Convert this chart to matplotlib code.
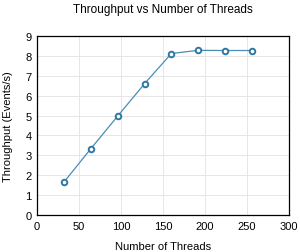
import matplotlib
matplotlib.use('Agg')
import matplotlib.pyplot as plt

plt.rcParams['font.family'] = ['Liberation Sans', 'DejaVu Sans']

# datos
threads = [32, 64, 96, 128, 160, 192, 224, 256]
throughput = [1.65, 3.33, 4.97, 6.60, 8.12, 8.28, 8.27, 8.27]

fig = plt.figure(figsize=(3.0, 2.53), dpi=100)
ax = fig.add_axes([37/300, 37/253, 252/300, 179/253])

ax.plot(threads, throughput, color='#4a8db5', linewidth=0.9,
        marker='o', markersize=4, markerfacecolor='white',
        markeredgecolor='#2f78a3', markeredgewidth=1.4, zorder=3)

ax.set_xlim(0, 300)
ax.set_ylim(0, 9)
ax.set_xticks(range(0, 301, 50))
ax.set_yticks(range(0, 10))
ax.grid(True, color='#e6e6e6', linewidth=0.7)
ax.set_axisbelow(True)
ax.tick_params(length=0, labelsize=8, pad=4)
for s in ax.spines.values():
    s.set_color('black')
    s.set_linewidth(0.9)

ax.set_title('Throughput vs Number of Threads', fontsize=8.5, pad=17)
ax.set_xlabel('Number of Threads', fontsize=8, labelpad=7.5)
ax.set_ylabel('Throughput (Events/s)', fontsize=8, labelpad=9)

fig.savefig('out.png', dpi=100)
